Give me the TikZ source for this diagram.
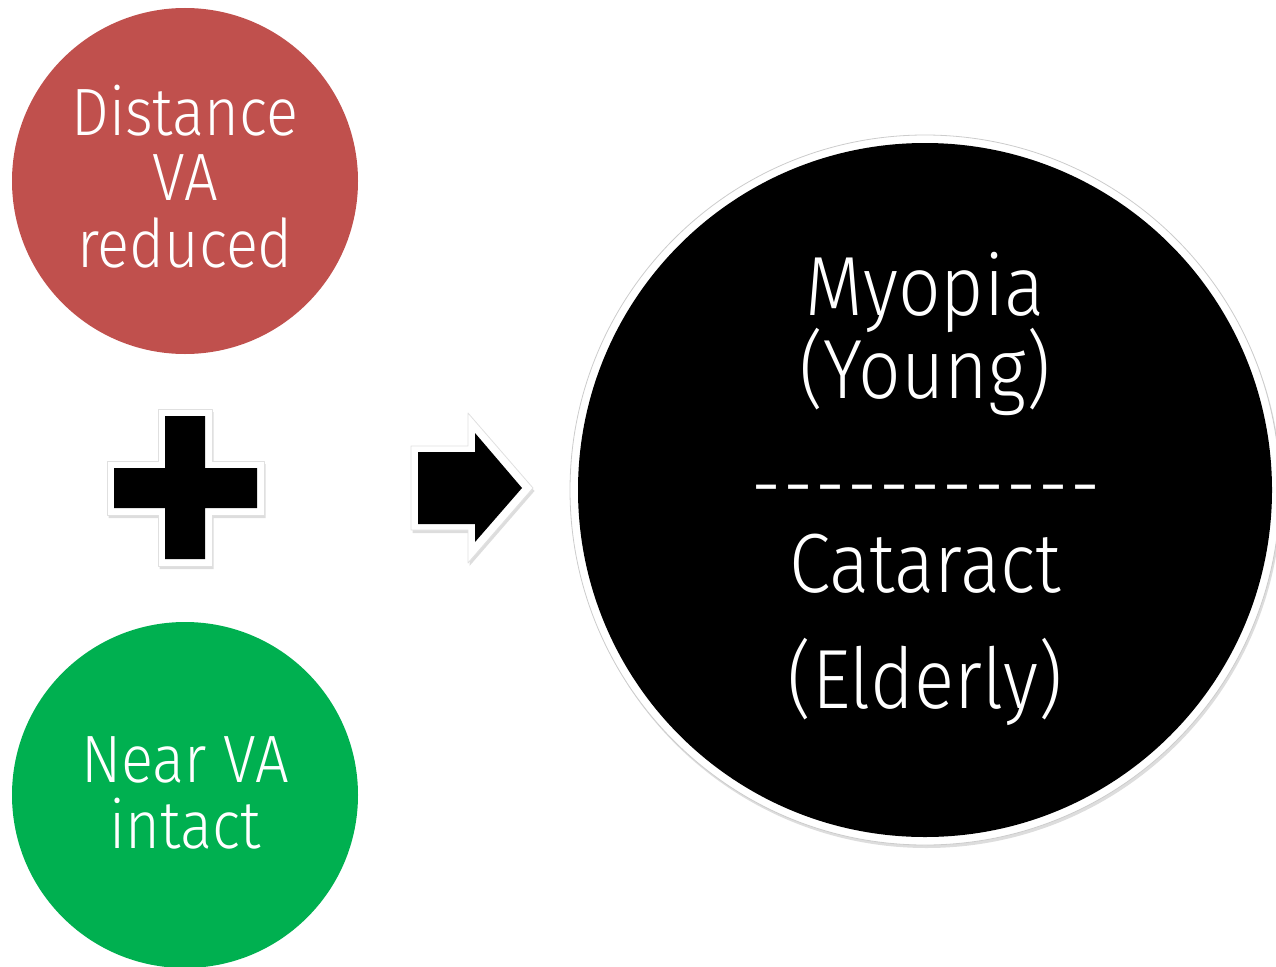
\documentclass[tikz,border=0pt]{standalone}
\usepackage{fontspec}
\setmainfont{Fira Sans Light}[FakeStretch=0.89]
\usetikzlibrary{shadows}
\definecolor{redc}{HTML}{C0504D}
\definecolor{greenc}{HTML}{00B050}
\tikzset{
  disc/.style={circle, inner sep=0pt, minimum size=346pt},
  lbl/.style={anchor=base, text=white, inner sep=0pt, font=\fontsize{67}{67}\selectfont},
  biglbl/.style={anchor=base, text=white, inner sep=0pt, font=\fontsize{84}{84}\selectfont},
  shad/.style={drop shadow={shadow xshift=1.5pt, shadow yshift=-3pt, opacity=0.22, fill=black!60}},
  halo/.style={fill=white, draw=black!12, line width=0.8pt, line join=round, shad}
}
\newcommand{\hy}{-\hspace{2pt}}
\begin{document}
\begin{tikzpicture}[x=1pt,y=-1pt]
\useasboundingbox (0,0) rectangle (1276,966);
\clip (0,0) rectangle (1276,966);
% left circles
\node[disc, fill=redc] (red) at (185,181) {};
\node[disc, fill=greenc] (green) at (185,795) {};
\node[lbl] (t1) at (185,135) {Distance};
\node[lbl] (t2) at (185,200) {VA};
\node[lbl] (t3) at (185,267) {reduced};
\node[lbl] (t4) at (185,782) {Near VA};
\node[lbl] (t5) at (185,848) {intact};
% plus
\path[halo] (158,409) -- (212,409) -- (212,461) -- (264,461) -- (264,515) -- (212,515) -- (212,566) -- (158,566) -- (158,515) -- (107,515) -- (107,461) -- (158,461) -- cycle;
\fill[black] (165,416) -- (205,416) -- (205,468) -- (257,468) -- (257,508) -- (205,508) -- (205,559) -- (165,559) -- (165,508) -- (114,508) -- (114,468) -- (165,468) -- cycle;
% arrow
\path[halo] (411,446) -- (468,446) -- (468,413) -- (533,488) -- (468,563) -- (468,530) -- (411,530) -- cycle;
\fill[black] (418,452) -- (475,452) -- (475,433) -- (522,488) -- (475,542) -- (475,524) -- (418,524) -- cycle;
% big circle
\node[circle, inner sep=0pt, minimum size=710pt, fill=white, draw=black!20, line width=0.8pt, shad] (ring) at (925,490) {};
\node[circle, inner sep=0pt, minimum size=694pt, fill=black] (big) at (925,490) {};
\node[biglbl] (m1) at (925,315) {Myopia};
\node[biglbl] (m2) at (925,398) {(Young)};
\node[biglbl] (m3) at (926,513) {\hy\hy\hy\hy\hy\hy\hy\hy\hy\hy-};
\node[biglbl] (m4) at (925,592) {Cataract};
\node[biglbl] (m5) at (925,708) {(Elderly)};
\end{tikzpicture}
\end{document}
